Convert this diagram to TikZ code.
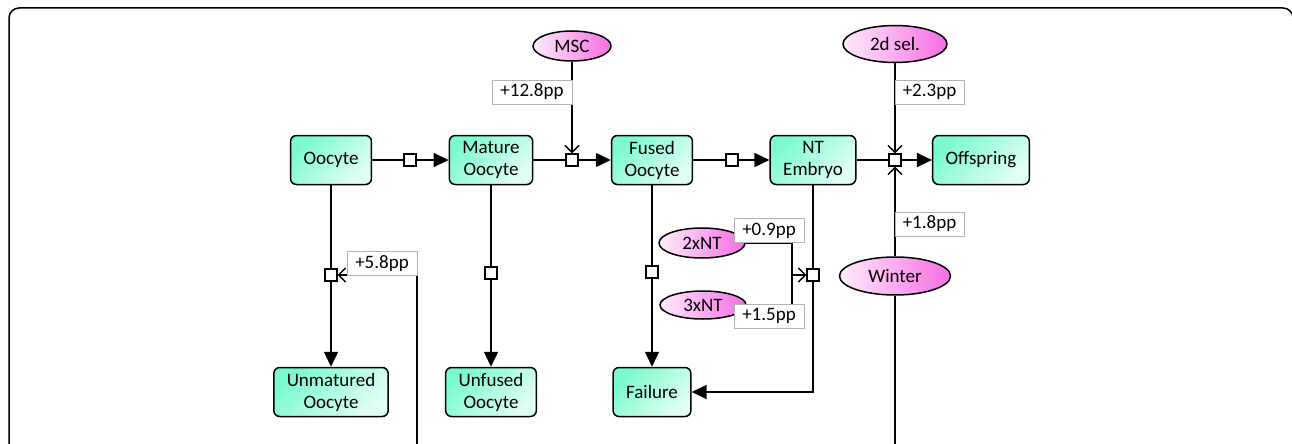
\documentclass[tikz,border=0pt]{standalone}
\usepackage{fontspec}
\setmainfont{Carlito}
\usepackage{tikz}
\usetikzlibrary{arrows.meta}
\usetikzlibrary{shapes.geometric}

\definecolor{stateA}{RGB}{122,250,204}
\definecolor{stateB}{RGB}{226,255,243}
\definecolor{factorA}{RGB}{255,236,251}
\definecolor{factorB}{RGB}{247,108,228}

\begin{document}
\begin{tikzpicture}[x=1pt,y=-1pt,font=\fontsize{19}{22}\selectfont,
		state/.style={draw=black,line width=1.5pt,rounded corners=6pt,top color=stateA,bottom color=stateB,shading angle=45,align=center,inner xsep=13pt,minimum height=49pt},
		factor/.style={ellipse,draw=black,line width=1.5pt,left color=factorA,right color=factorB,inner sep=0pt,minimum width=86pt,minimum height=30pt},
		junc/.style={draw=black,fill=white,line width=1.2pt,inner sep=0pt,minimum size=12pt},
		gain/.style={draw=black!30,fill=white,line width=0.8pt,inner sep=0pt,minimum width=70pt,minimum height=24pt},
		flow/.style={line width=1.5pt,-{Triangle[length=15pt,width=14pt]}},
		mod/.style={line width=1.5pt,-{Straight Barb[length=7pt,width=14pt]}}]
			\clip (0,0) rectangle (1292,444);
			\draw[line width=1.5pt,rounded corners=10pt] (9,8) rectangle (1293,480);
			
			% states
			\node[state] (oocyte) at (331,160) {Oocyte};
			\node[state] (mature) at (491,160) {Mature\\Oocyte};
			\node[state] (fused) at (652,160) {Fused\\Oocyte};
			\node[state] (embryo) at (813,160) {NT\\Embryo};
			\node[state] (offspring) at (981,160) {Offspring};
			\node[state] (unmatured) at (331,392) {Unmatured\\Oocyte};
			\node[state] (unfused) at (491,392) {Unfused\\Oocyte};
			\node[state] (failure) at (652,392) {Failure};
			
			% transitions
			\foreach \i/\x/\y in {1/410/160,2/572/160,3/732/160,4/895/160,5/331/275,6/491/273,7/652/272,8/813/275}
				\node[junc] (j\i) at (\x,\y) {};
			\foreach \a/\j/\b in {oocyte/j1/mature,mature/j2/fused,fused/j3/embryo,embryo/j4/offspring,oocyte/j5/unmatured,mature/j6/unfused,fused/j7/failure} {
				\draw[line width=1.5pt] (\a) -- (\j);
				\draw[flow] (\j) -- (\b);
			}
			\draw[line width=1.5pt] (embryo) -- (j8);
			\draw[flow] (j8) |- (failure);
			
			% factors
			\node[factor,minimum width=78pt] (msc) at (572,46) {MSC};
			\node[factor,minimum width=104pt,minimum height=37pt] (sel) at (895,44) {2d sel.};
			\node[factor] (nt2) at (702,243) {2xNT};
			\node[factor,minimum height=28pt] (nt3) at (703,305) {3xNT};
			\node[factor,minimum width=111pt,minimum height=38pt] (winter) at (895,276) {Winter};
			\coordinate (k) at (792,275);
			\coordinate (c58) at (417,460);
			\coordinate (cw) at (895,460);
			
			\draw[mod] (msc) -- (j2);
			\draw[mod] (sel) -- (j4);
			\draw[mod] (winter) -- (j4);
			\draw[line width=1.5pt] (cw) -- (winter);
			\draw[mod] (c58) |- (j5);
			\draw[line width=1.5pt] (nt2.east) -| (k);
			\draw[line width=1.5pt] (nt3.east) -| (k);
			\draw[mod] (k) -- (j8);
			
			% gains
			\node[gain,minimum width=80pt] (g1) at (532,92) {+12.8pp};
			\node[gain,minimum width=69pt] (g2) at (929.5,92) {+2.3pp};
			\node[gain] (g3) at (382,263.5) {+5.8pp};
			\node[gain] (g4) at (769,230.5) {+0.9pp};
			\node[gain] (g5) at (769,316) {+1.5pp};
			\node[gain,minimum width=69pt] (g6) at (929.5,224) {+1.8pp};
			
		\end{tikzpicture}
\end{document}
